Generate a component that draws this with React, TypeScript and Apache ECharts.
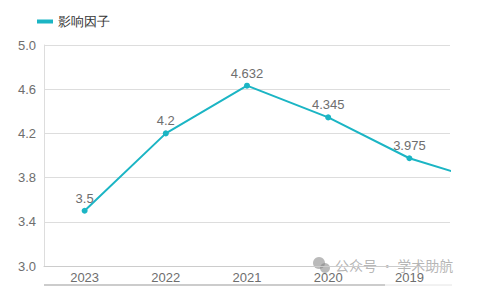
import React, { useEffect, useRef } from "react";
import * as echarts from "echarts";

const categories = ["2023", "2022", "2021", "2020", "2019", "2018"];
const impactFactor = [3.5, 4.2, 4.632, 4.345, 3.975, 3.75];
const seriesName = "影响因子";
const watermark = "公众号 · 学术助航";

export default function App() {
  const ref = useRef<HTMLDivElement>(null);
  useEffect(() => {
    if (!ref.current) return;
    const chart = echarts.init(ref.current, null, { renderer: "svg" });
    chart.setOption({
      animation: false,
      textStyle: { fontFamily: "Liberation Sans, Arial, sans-serif" },
      legend: {
        left: 32,
        top: 10,
        icon: "rect",
        itemWidth: 16,
        itemHeight: 4,
        itemGap: 6,
        textStyle: { color: "#333", fontSize: 13 },
        data: [seriesName],
      },
      grid: { left: 44, right: 31, top: 45, bottom: 26, containLabel: false },
      xAxis: {
        type: "category",
        data: categories,
        max: 4,
        boundaryGap: true,
        axisLine: { lineStyle: { color: "#ccc" } },
        axisTick: { alignWithLabel: true, length: 4, lineStyle: { color: "#ccc" } },
        axisLabel: { color: "#6e6e6e", fontSize: 13, margin: 5 },
      },
      yAxis: {
        type: "value",
        min: 3.0,
        max: 5.0,
        interval: 0.4,
        axisLine: { show: true, lineStyle: { color: "#ddd" } },
        axisTick: { show: false },
        splitLine: { lineStyle: { color: "#ddd" } },
        axisLabel: {
          color: "#6e6e6e",
          fontSize: 13,
          margin: 8,
          formatter: (v: number) => v.toFixed(1),
        },
      },
      series: [
        {
          name: seriesName,
          type: "line",
          data: impactFactor,
          clip: true,
          symbol: "circle",
          symbolSize: 6,
          itemStyle: { color: "#1bb5c4" },
          lineStyle: { color: "#1bb5c4", width: 2 },
          label: { show: true, position: "top", color: "#6e6e6e", fontSize: 13, distance: 3 },
        },
      ],
      graphic: [
        {
          type: "rect",
          shape: { x: 451, y: 40, width: 30, height: 200 },
          style: { fill: "#fff" },
          z: 100,
        },
        {
          type: "line",
          shape: { x1: 44, y1: 285, x2: 385, y2: 285 },
          style: { stroke: "#999", lineWidth: 1 },
        },
        {
          type: "line",
          shape: { x1: 385, y1: 285, x2: 452, y2: 285 },
          style: { stroke: "#e4e4e4", lineWidth: 1 },
        },
        {
          type: "group",
          left: 313,
          top: 257,
          z: 101,
          children: [
            { type: "circle", shape: { cx: 7, cy: 6, r: 6 }, style: { fill: "rgba(130,130,130,0.55)" } },
            { type: "circle", shape: { cx: 13, cy: 11, r: 5 }, style: { fill: "rgba(130,130,130,0.55)" } },
            {
              type: "text",
              x: 23,
              y: 1,
              style: {
                text: watermark,
                fill: "rgba(150,150,150,0.7)",
                fontSize: 14,
                fontFamily: "Noto Sans CJK SC",
              },
            },
          ],
        },
      ],
    });
    return () => chart.dispose();
  }, []);
  return (
    <div
      ref={ref}
      style={{ position: "fixed", left: 0, top: 0, width: 481, height: 292, background: "#fff" }}
    />
  );
}
